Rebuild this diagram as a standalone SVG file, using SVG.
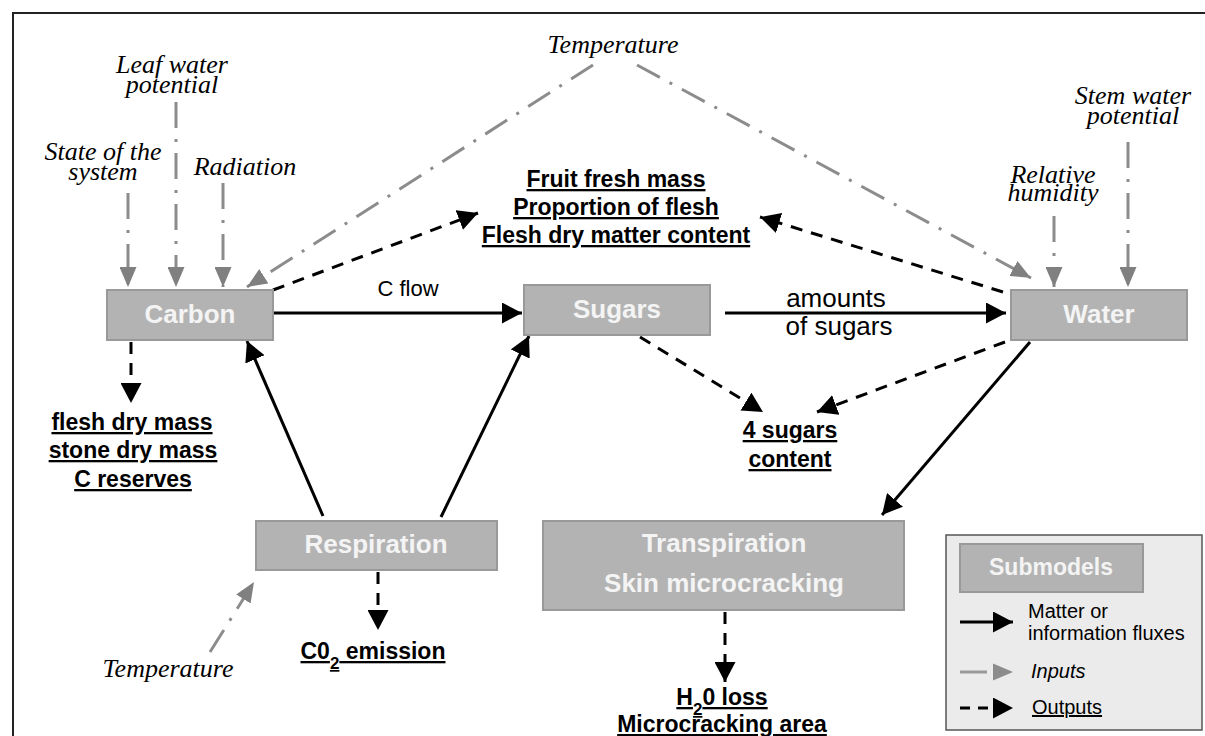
<svg xmlns="http://www.w3.org/2000/svg" width="1205" height="736" viewBox="0 0 1205 736">
<defs>
<style>
.box{fill:#b3b3b3;stroke:#999999;stroke-width:2}
.bt{font-family:"Liberation Sans",Arial,sans-serif;font-weight:bold;font-size:26px;fill:#f4f4f4;text-anchor:middle}
.out{font-family:"Liberation Sans",Arial,sans-serif;font-weight:bold;font-size:23px;fill:#000;text-anchor:middle;text-decoration:underline}
.inp{font-family:"Liberation Serif","Times New Roman",serif;font-style:italic;font-size:26px;fill:#000;text-anchor:middle}
.lab{font-family:"Liberation Sans",Arial,sans-serif;font-size:22px;fill:#000;text-anchor:middle}
.leg{font-family:"Liberation Sans",Arial,sans-serif;font-size:20px;fill:#000}
.solid{stroke:#000;stroke-width:3;fill:none;marker-end:url(#ab)}
.dash{stroke:#000;stroke-width:3;fill:none;stroke-dasharray:12 9;marker-end:url(#ab)}
.gin{stroke:#8c8c8c;stroke-width:3;fill:none;stroke-dasharray:26 11 3 11;marker-end:url(#ag)}
</style>
<marker id="ab" markerUnits="userSpaceOnUse" markerWidth="20" markerHeight="21" refX="20" refY="10.5" orient="auto">
<path d="M0,0 L20,10.5 L0,21 z" fill="#000"/>
</marker>
<marker id="ag" markerUnits="userSpaceOnUse" markerWidth="20" markerHeight="17" refX="20" refY="8.5" orient="auto">
<path d="M0,0 L20,8.5 L0,17 z" fill="#808080"/>
</marker>
</defs>
<rect x="0" y="0" width="1205" height="736" fill="#fff"/>
<rect x="13" y="13" width="1200" height="740" fill="none" stroke="#222" stroke-width="2"/>

<g id="connectors">
<line class="solid" x1="273" y1="313" x2="522" y2="313"/>
<line class="solid" x1="725" y1="313" x2="1006" y2="313"/>
<line class="solid" x1="323" y1="516" x2="247" y2="341"/>
<line class="solid" x1="441" y1="517" x2="529" y2="336"/>
<line class="solid" x1="1030" y1="342" x2="882" y2="515"/>
<line class="dash" x1="131" y1="342" x2="131" y2="403"/>
<line class="dash" x1="378" y1="572" x2="378" y2="630"/>
<line class="dash" x1="725" y1="612" x2="725" y2="682"/>
<line class="dash" x1="640" y1="337" x2="763" y2="412"/>
<line class="dash" x1="1005" y1="342" x2="817" y2="412"/>
<line class="dash" x1="273" y1="290" x2="478" y2="213"/>
<line class="dash" x1="1003" y1="292" x2="760" y2="217"/>
<line class="gin" x1="128" y1="193" x2="128" y2="287"/>
<line class="gin" x1="176" y1="102" x2="176" y2="287"/>
<line class="gin" x1="223" y1="183" x2="223" y2="287"/>
<line class="gin" x1="593" y1="65" x2="247" y2="287"/>
<line class="gin" x1="637" y1="65" x2="1031" y2="278"/>
<line class="gin" x1="1054" y1="216" x2="1054" y2="287"/>
<line class="gin" x1="1128" y1="142" x2="1128" y2="287"/>
<line class="gin" x1="210" y1="652" x2="254" y2="582"/>
<text class="lab" x="408" y="296">C flow</text>
<text class="lab" x="836" y="307" style="font-size:26px">amounts</text>
<text class="lab" x="839" y="335" style="font-size:26px">of sugars</text>
</g>

<g id="carbon">
<rect class="box" x="107" y="290" width="166" height="50"/>
<text class="bt" x="190" y="323">Carbon</text>
</g>
<g id="sugars">
<rect class="box" x="524" y="285" width="186" height="50"/>
<text class="bt" x="617" y="318">Sugars</text>
</g>
<g id="water">
<rect class="box" x="1011" y="290" width="176" height="50"/>
<text class="bt" x="1099" y="323">Water</text>
</g>
<g id="respiration">
<rect class="box" x="256" y="521" width="241" height="49"/>
<text class="bt" x="376" y="553">Respiration</text>
</g>
<g id="transpiration">
<rect class="box" x="543" y="521" width="361" height="89"/>
<text class="bt" x="724" y="552">Transpiration</text>
<text class="bt" x="724" y="592">Skin microcracking</text>
</g>

<g id="inputs">
<text class="inp" x="103" y="160">State of the</text>
<text class="inp" x="103" y="180">system</text>
<text class="inp" x="172" y="73">Leaf water</text>
<text class="inp" x="172" y="93">potential</text>
<text class="inp" x="245" y="175">Radiation</text>
<text class="inp" x="613" y="53">Temperature</text>
<text class="inp" x="1053" y="183">Relative</text>
<text class="inp" x="1053" y="201">humidity</text>
<text class="inp" x="1133" y="104">Stem water</text>
<text class="inp" x="1133" y="124">potential</text>
<text class="inp" x="168" y="677">Temperature</text>
</g>

<g id="outputs">
<text class="out" x="616" y="187">Fruit fresh mass</text>
<text class="out" x="616" y="215">Proportion of flesh</text>
<text class="out" x="616" y="243">Flesh dry matter content</text>
<text class="out" x="132" y="430">flesh dry mass</text>
<text class="out" x="133" y="458">stone dry mass</text>
<text class="out" x="133" y="487">C reserves</text>
<text class="out" x="790" y="438">4 sugars</text>
<text class="out" x="790" y="467">content</text>
<text class="out" x="373" y="659">C0<tspan baseline-shift="sub" font-size="17">2</tspan> emission</text>
<text class="out" x="722" y="705">H<tspan baseline-shift="sub" font-size="17">2</tspan>0 loss</text>
<text class="out" x="722" y="732">Microcracking area</text>
</g>

<g id="legend">
<rect x="946" y="535" width="256" height="195" fill="#ebebeb" stroke="#555" stroke-width="1.5"/>
<rect class="box" x="960" y="544" width="183" height="48"/>
<text class="bt" x="1051" y="575" style="font-size:23px">Submodels</text>
<line x1="960" y1="622" x2="1013" y2="622" stroke="#000" stroke-width="3" marker-end="url(#ab)"/>
<text class="leg" x="1028" y="618">Matter or</text>
<text class="leg" x="1028" y="640">information fluxes</text>
<line x1="960" y1="672" x2="987" y2="672" stroke="#999" stroke-width="3"/>
<path d="M993,663.5 L1013,672 L993,680.5 z" fill="#8c8c8c"/>
<text class="leg" x="1031" y="678" font-style="italic">Inputs</text>
<line x1="960" y1="708" x2="1013" y2="708" stroke="#000" stroke-width="3" stroke-dasharray="10 8" marker-end="url(#ab)"/>
<text class="leg" x="1032" y="714" text-decoration="underline">Outputs</text>
</g>
</svg>
